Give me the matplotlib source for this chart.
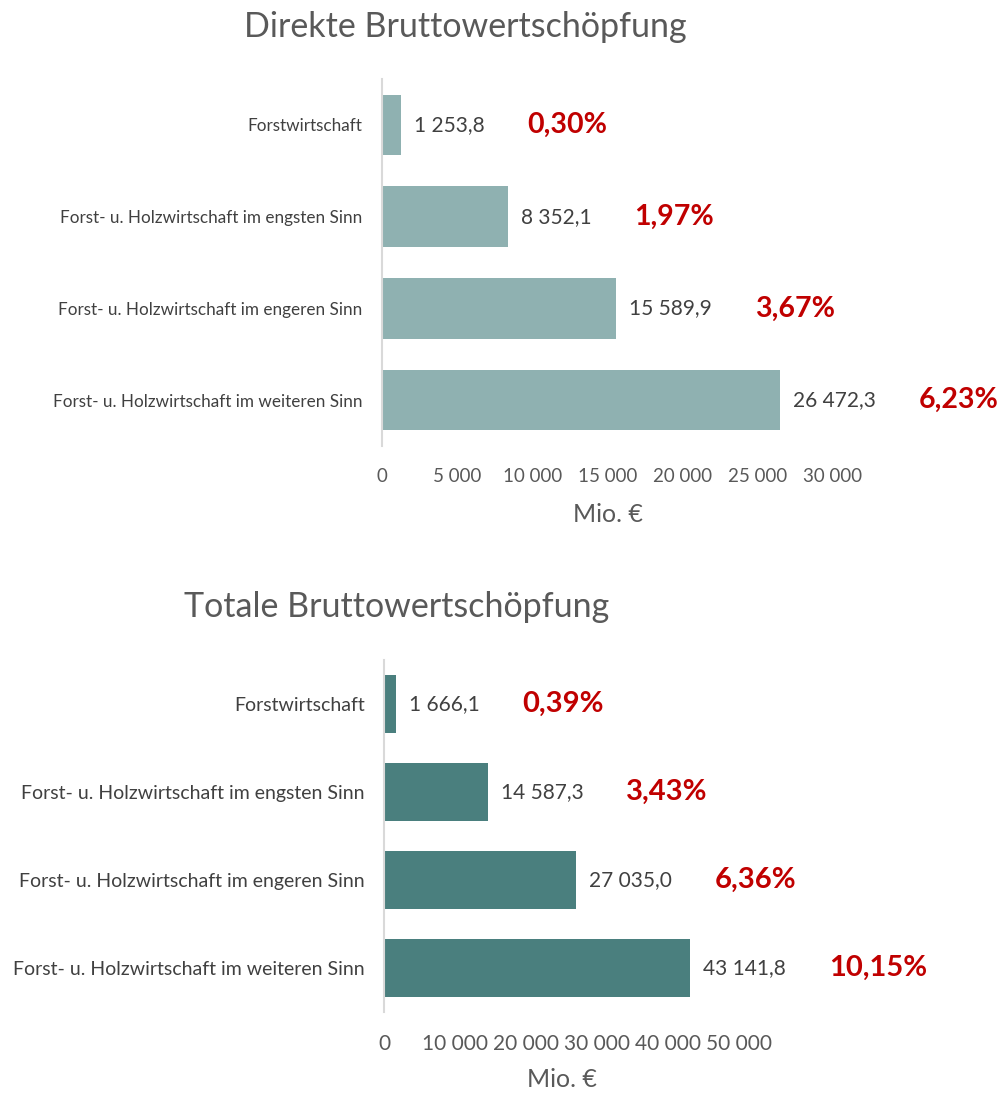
import matplotlib.pyplot as plt

categories = ['Forstwirtschaft',
              'Forst- u. Holzwirtschaft im engsten Sinn',
              'Forst- u. Holzwirtschaft im engeren Sinn',
              'Forst- u. Holzwirtschaft im weiteren Sinn']

direkt_values = [1253.8, 8352.1, 15589.9, 26472.3]
direkt_pct = ['0,30%', '1,97%', '3,67%', '6,23%']
direkt_ticks = [0, 5000, 10000, 15000, 20000, 25000, 30000]

total_values = [1666.1, 14587.3, 27035.0, 43141.8]
total_pct = ['0,39%', '3,43%', '6,36%', '10,15%']
total_ticks = [0, 10000, 20000, 30000, 40000, 50000]

plt.rcParams['font.family'] = ['Lato', 'DejaVu Sans']

W, H = 1008, 1093
fig = plt.figure(figsize=(W / 100, H / 100), dpi=100)


def fmt(v, dec=True):
    s = '{:,.1f}'.format(v) if dec else '{:,.0f}'.format(v)
    return s.replace(',', ' ').replace('.', ',')


def draw(rect, values, pct, ticks, color, title, title_x, title_y,
         cat_size, tick_size, label_pad, pct_size):
    l, t, r, b = rect
    ax = fig.add_axes([l / W, 1 - b / H, (r - l) / W, (b - t) / H])
    y = list(range(len(categories)))
    ax.barh(y, values, height=0.66, color=color)
    ax.set_ylim(len(categories) - 0.5, -0.5)
    ax.set_xlim(ticks[0], ticks[-1])
    ax.set_yticks(y)
    ax.set_yticklabels(categories, fontsize=cat_size, color='#404040')
    ax.set_xticks(ticks)
    ax.set_xticklabels([fmt(t, False) for t in ticks], fontsize=tick_size, color='#595959')
    ax.tick_params(length=0)
    ax.tick_params(axis='x', pad=16)
    ax.tick_params(axis='y', pad=14)
    for s in ['top', 'right', 'bottom']:
        ax.spines[s].set_visible(False)
    ax.spines['left'].set_color('#D9D9D9')
    ax.spines['left'].set_linewidth(1.5)
    ax.set_xlabel('Mio. €', fontsize=18, color='#595959', labelpad=label_pad)
    for yi, v, p in zip(y, values, pct):
        txt = ax.annotate(fmt(v), xy=(v, yi), xytext=(13, 0), textcoords='offset pixels',
                          va='center', ha='left', fontsize=15, color='#404040')
        ax.annotate(p, xy=(1, 0.5), xycoords=txt, xytext=(43, 0), textcoords='offset pixels',
                    va='center', ha='left', fontsize=pct_size, fontweight='bold', color='#C00000',
                    annotation_clip=False)
    fig.text(title_x / W, 1 - title_y / H, title, fontsize=24.5, color='#595959',
             ha='center', va='center')
    return ax


draw((382, 79, 833, 446), direkt_values, direkt_pct, direkt_ticks, '#8FB1B1',
     'Direkte Bruttowertschöpfung', 465, 27, 12.3, 13.5, 13, 20.5)
draw((384, 660, 739, 1012), total_values, total_pct, total_ticks, '#4A7F7E',
     'Totale Bruttowertschöpfung', 397, 607, 14, 15, 10, 21)

fig.savefig('out.png', dpi=100)
